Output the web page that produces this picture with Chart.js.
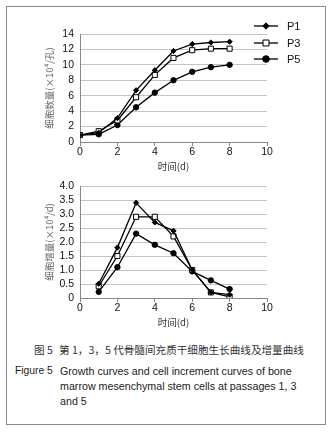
<!DOCTYPE html>
<html>
<head>
<meta charset="utf-8">
<script src="https://cdn.jsdelivr.net/npm/chart.js@4"></script>
<style>
  body { margin: 0; background: #fff; width: 332px; height: 436px; position: relative; overflow: hidden; }
  #frame { position: absolute; left: 6px; top: 6px; width: 318px; height: 417px; border: 1px solid #888; }
  canvas { position: absolute; left: 0; }
  #growth { top: 0; }
  #increment { top: 172px; }
  .cap { position: absolute; font-family: "Liberation Sans", Arial, sans-serif; font-size: 10.7px; color: #222; white-space: nowrap; }
  .cn { font-family: "Noto Sans CJK SC", sans-serif; color: #333; font-size: 10.6px; }
</style>
</head>
<body>
<div id="frame"></div>
<canvas id="growth" width="332" height="172"></canvas>
<canvas id="increment" width="332" height="156"></canvas>

<div class="cap cn" style="left:34px; top:342px;">图 5</div>
<div class="cap cn" style="left:59px; top:342px;">第 1，3，5 代骨髓间充质干细胞生长曲线及增量曲线</div>
<div class="cap" style="left:15px; top:365px; font-size:10.3px;">Figure 5</div>
<div class="cap" style="left:60px; top:365px;">Growth curves and cell increment curves of bone</div>
<div class="cap" style="left:60px; top:380px;">marrow mesenchymal stem cells at passages 1, 3</div>
<div class="cap" style="left:60px; top:395px;">and 5</div>

<script>
// growth curve (cell count, x10^4 per well), days 0-8
const growthDays = [0, 1, 2, 3, 4, 5, 6, 7, 8];
const growthP1 = [0.9, 1.2, 3.1, 6.7, 9.3, 11.8, 12.7, 12.9, 13.0];
const growthP3 = [0.9, 1.4, 2.8, 5.8, 8.7, 10.9, 11.9, 12.1, 12.1];
const growthP5 = [0.9, 1.0, 2.2, 4.5, 6.4, 8.0, 9.1, 9.7, 10.0];

// increment curve (x10^4 per day), days 1-8
const incDays = [1, 2, 3, 4, 5, 6, 7, 8];
const incP1 = [0.51, 1.8, 3.4, 2.7, 2.4, 1.0, 0.2, 0.12];
const incP3 = [0.42, 1.5, 2.9, 2.9, 2.2, 1.0, 0.2, 0.04];
const incP5 = [0.22, 1.1, 2.3, 1.9, 1.6, 0.95, 0.63, 0.32];

const seriesNames = ['P1', 'P3', 'P5'];
const xTicksMax = 10;

const latin = 'Liberation Sans';
const cjk = 'Noto Sans CJK SC';

function pts(days, vals) {
    return days.map((d, i) => ({ x: d, y: vals[i] }));
}

// marker styles per passage
const markerStyles = [
    { pointStyle: 'rectRot', pointRadius: 2.6, pointBackgroundColor: '#000', pointBorderColor: '#000', pointBorderWidth: 1 },
    { pointStyle: 'rect', pointRadius: 3.6, pointBackgroundColor: '#fff', pointBorderColor: '#000', pointBorderWidth: 1 },
    { pointStyle: 'circle', pointRadius: 2.7, pointBackgroundColor: '#000', pointBorderColor: '#000', pointBorderWidth: 1 }
];

function makeDatasets(days, lists) {
    return lists.map((vals, i) => Object.assign({
        label: seriesNames[i],
        data: pts(days, vals),
        borderColor: '#000',
        borderWidth: 1.3,
        tension: 0,
        fill: false
    }, markerStyles[i]));
}

// legend drawn next to the top plot
const sideLegend = {
    id: 'sideLegend',
    afterDraw(chart, args, opts) {
        if (!opts.show) return;
        const ctx = chart.ctx;
        const rows = [26, 43, 59];
        ctx.save();
        chart.data.datasets.forEach((ds, i) => {
            const y = rows[i];
            ctx.strokeStyle = '#000';
            ctx.lineWidth = 1.3;
            ctx.beginPath();
            ctx.moveTo(254, y);
            ctx.lineTo(278, y);
            ctx.stroke();
            ctx.fillStyle = ds.pointBackgroundColor;
            ctx.strokeStyle = ds.pointBorderColor;
            ctx.lineWidth = 1;
            Chart.helpers.drawPoint(ctx, {
                pointStyle: ds.pointStyle,
                radius: ds.pointRadius + 0.6,
                borderWidth: 1,
                rotation: 0
            }, 266, y);
            ctx.fillStyle = '#111';
            ctx.font = '11px "' + latin + '"';
            ctx.textBaseline = 'middle';
            ctx.textAlign = 'left';
            ctx.fillText(ds.label, 287, y + 1);
        });
        ctx.restore();
    }
};

function makeChart(id, datasets, yMax, yStep, yTitle, topPad, fmt, legend) {
    return new Chart(document.getElementById(id), {
        type: 'line',
        data: { datasets: datasets },
        plugins: [sideLegend],
        options: {
            responsive: false,
            animation: false,
            layout: { padding: { top: topPad, right: 65, left: 0, bottom: 0 } },
            plugins: {
                legend: { display: false },
                tooltip: { enabled: false },
                sideLegend: { show: legend }
            },
            scales: {
                x: {
                    type: 'linear',
                    min: 0,
                    max: xTicksMax,
                    ticks: { stepSize: 2, padding: 0, color: '#111', font: { family: latin, size: 10.5 } },
                    grid: { drawOnChartArea: false, drawTicks: true, tickLength: 4, color: '#888' },
                    border: { display: true, color: '#888' },
                    title: {
                        display: true,
                        text: '时间(d)',
                        color: '#333',
                        font: { family: cjk, size: 9.5 },
                        padding: { top: 0, bottom: 0 }
                    },
                    afterFit(scale) { scale.height = 30; }
                },
                y: {
                    min: 0,
                    max: yMax,
                    ticks: {
                        stepSize: yStep,
                        autoSkip: false,
                        padding: 6,
                        color: '#111',
                        font: { family: latin, size: 10.5 },
                        callback: fmt
                    },
                    grid: { color: '#c4c4c4', drawTicks: false, lineWidth: 1 },
                    border: { display: true, color: '#888' },
                    title: {
                        display: true,
                        text: yTitle,
                        color: '#666',
                        font: { family: cjk, size: 9.5 },
                        padding: { top: 44, bottom: 0 }
                    },
                    afterFit(scale) { scale.width = 80; }
                }
            }
        }
    });
}

makeChart('growth', makeDatasets(growthDays, [growthP1, growthP3, growthP5]),
    14, 2, '细胞数量(×10⁴/孔)', 34, v => v, true);

makeChart('increment', makeDatasets(incDays, [incP1, incP3, incP5]),
    4, 0.5, '细胞增量(×10⁴/d)', 14, v => (v === 0 ? '0' : v.toFixed(1)), false);
</script>
</body>
</html>
